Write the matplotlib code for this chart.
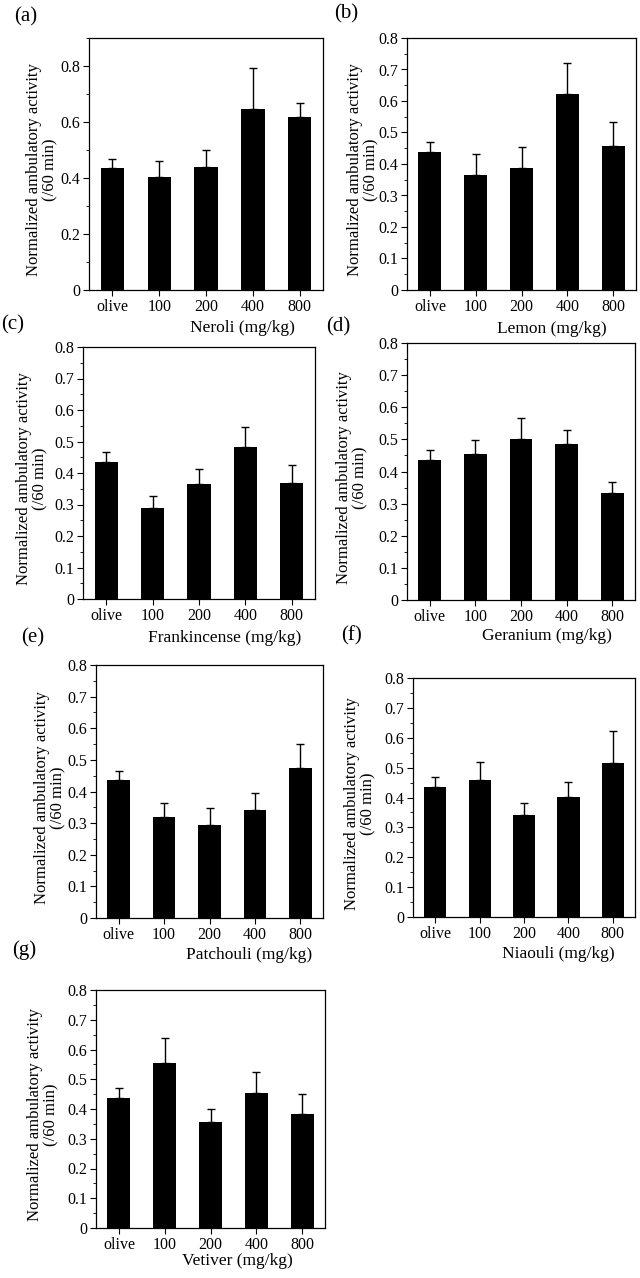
import numpy as np
import matplotlib
matplotlib.use('Agg')
import matplotlib.pyplot as plt
from matplotlib.ticker import MultipleLocator, FuncFormatter

plt.rcParams['font.family'] = ['Liberation Serif', 'DejaVu Serif']

# data
groups = ['olive', '100', '200', '400', '800']
oils = ['Neroli', 'Lemon', 'Frankincense', 'Geranium', 'Patchouli', 'Niaouli', 'Vetiver']
panel_tags = ['(a)', '(b)', '(c)', '(d)', '(e)', '(f)', '(g)']

neroli_mean = [0.436, 0.404, 0.441, 0.648, 0.618]
neroli_top = [0.468, 0.462, 0.499, 0.794, 0.667]
lemon_mean = [0.437, 0.364, 0.386, 0.623, 0.456]
lemon_top = [0.469, 0.432, 0.455, 0.721, 0.534]
frank_mean = [0.436, 0.290, 0.364, 0.481, 0.367]
frank_top = [0.468, 0.328, 0.413, 0.547, 0.424]
geran_mean = [0.435, 0.453, 0.501, 0.485, 0.332]
geran_top = [0.466, 0.499, 0.567, 0.530, 0.368]
patch_mean = [0.436, 0.319, 0.294, 0.342, 0.473]
patch_top = [0.466, 0.364, 0.347, 0.394, 0.549]
niaou_mean = [0.436, 0.458, 0.340, 0.401, 0.517]
niaou_top = [0.470, 0.520, 0.380, 0.453, 0.624]
vetiv_mean = [0.437, 0.555, 0.355, 0.455, 0.384]
vetiv_top = [0.470, 0.640, 0.399, 0.523, 0.452]

means = [neroli_mean, lemon_mean, frank_mean, geran_mean, patch_mean, niaou_mean, vetiv_mean]
tops = [neroli_top, lemon_top, frank_top, geran_top, patch_top, niaou_top, vetiv_top]

W, H = 640, 1278

# layout in pixels: axes box (left, top, right, bottom), tag pos, ylabel x, xlabel pos
boxes = [(89, 38, 323, 290), (407, 38, 636, 290), (83, 347, 315, 599),
         (407, 343, 635, 600), (96, 665, 323, 918), (413, 678, 635, 917),
         (96, 990, 325, 1228)]
tag_pos = [(14, 17), (334, 14), (1, 325), (326, 327), (21, 638), (341, 636), (12, 950)]
ylab_x = [42, 363, 32, 352, 50, 360, 43]
xlab_pos = [(242, 328), (552, 329), (225, 638), (547, 636), (249, 955), (558, 954), (237, 1261)]


def fx(x):
    return x / W


def fy(y):
    return 1 - y / H


fig = plt.figure(figsize=(W / 100, H / 100), dpi=100)

x = np.arange(len(groups))
for k in range(len(oils)):
    l, t, r, b = boxes[k]
    ax = fig.add_axes([fx(l), fy(b), fx(r - l), (b - t) / H])
    m = np.array(means[k])
    err = np.array(tops[k]) - m
    ax.bar(x, m, width=0.5, color='black', edgecolor='none')
    ax.errorbar(x, m, yerr=[np.zeros_like(err), err], fmt='none', ecolor='black',
                elinewidth=1.0, capsize=2.8, capthick=1.0)
    ax.set_xlim(-0.5, 4.5)
    if k == 0:
        ax.set_ylim(0, 0.9)
        ax.yaxis.set_major_locator(MultipleLocator(0.2))
        ax.yaxis.set_minor_locator(MultipleLocator(0.1))
    else:
        ax.set_ylim(0, 0.8)
        ax.yaxis.set_major_locator(MultipleLocator(0.1))
        ax.yaxis.set_minor_locator(MultipleLocator(0.05))
    ax.yaxis.set_major_formatter(FuncFormatter(lambda v, p: '0' if abs(v) < 1e-9 else '%.1f' % v))
    ax.set_xticks(x)
    ax.set_xticklabels(groups)
    ax.tick_params(axis='both', which='major', direction='out', length=4.5, width=0.8,
                   labelsize=11.5, pad=2, top=False, right=False)
    ax.tick_params(axis='y', which='minor', direction='out', length=2.5, width=0.6, right=False)
    ax.tick_params(axis='x', which='minor', bottom=False)
    for s in ax.spines.values():
        s.set_linewidth(0.9)

    fig.text(fx(tag_pos[k][0]), fy(tag_pos[k][1]), panel_tags[k], fontsize=15,
             ha='left', va='center')
    fig.text(fx(ylab_x[k]), fy((t + b) / 2 + 6), 'Normalized ambulatory activity\n(/60 min)',
             rotation=90, fontsize=12, ha='center', va='center', multialignment='center',
             linespacing=1.0)
    fig.text(fx(xlab_pos[k][0]), fy(xlab_pos[k][1]), oils[k] + ' (mg/kg)', fontsize=12.5,
             ha='center', va='center')

fig.savefig('out.png', dpi=100)
